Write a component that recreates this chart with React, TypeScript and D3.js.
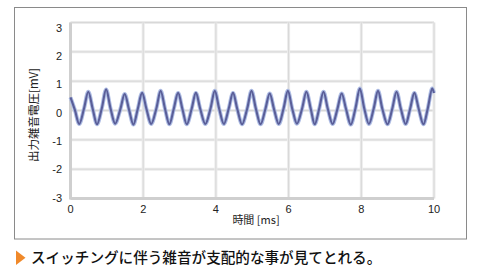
import React from "react";
import * as d3 from "d3";

const W = 482;
const H = 272;

const xTicks = [0, 2, 4, 6, 8, 10];
const yTicks = [-3, -2, -1, 0, 1, 2, 3];
const xTitle = "時間 [ms]";
const yTitle = "出力雑音電圧[mV]";
const caption = "スイッチングに伴う雑音が支配的な事が見てとれる。";

// waveform (time in ms, voltage in mV)
const timeMs = [
  0.0, 0.12, 0.24, 0.37, 0.49, 0.61, 0.73, 0.86, 0.98, 1.1, 1.23, 1.37, 1.49, 1.61, 1.73, 1.85,
  1.97, 2.09, 2.22, 2.36, 2.48, 2.6, 2.72, 2.84, 2.96, 3.08, 3.2, 3.33, 3.45, 3.57, 3.71, 3.85,
  3.97, 4.09, 4.22, 4.35, 4.47, 4.59, 4.72, 4.86, 4.98, 5.1, 5.23, 5.36, 5.48, 5.6, 5.73, 5.86,
  5.98, 6.1, 6.23, 6.37, 6.49, 6.61, 6.72, 6.84, 6.96, 7.08, 7.21, 7.34, 7.46, 7.58, 7.71, 7.84,
  7.96, 8.08, 8.21, 8.34, 8.46, 8.58, 8.72, 8.85, 8.97, 9.09, 9.22, 9.34, 9.46, 9.58, 9.71, 9.83,
  9.95, 10.0,
];
const noiseMv = [
  0.45, 0.02, -0.46, 0.06, 0.64, 0.06, -0.47, 0.07, 0.72, 0.08, -0.45, 0.04, 0.56, 0.03, -0.48, 0.05,
  0.6, 0.05, -0.46, 0.06, 0.67, 0.06, -0.47, 0.05, 0.6, 0.04, -0.47, 0.04, 0.6, 0.05, -0.46, 0.06,
  0.67, 0.06, -0.46, 0.05, 0.6, 0.04, -0.47, 0.06, 0.67, 0.06, -0.47, 0.04, 0.58, 0.04, -0.46, 0.06,
  0.67, 0.06, -0.45, 0.06, 0.64, 0.05, -0.47, 0.05, 0.64, 0.05, -0.46, 0.04, 0.58, 0.05, -0.48, 0.08,
  0.75, 0.08, -0.46, 0.06, 0.67, 0.05, -0.47, 0.05, 0.64, 0.05, -0.46, 0.04, 0.6, 0.05, -0.47, 0.08,
  0.75, 0.6,
];

export default function App() {
  const x = d3.scaleLinear().domain([0, 10]).range([70.5, 434]);
  const y = d3.scaleLinear().domain([-3, 3]).range([198.5, 22.5]);
  const yLab = d3.scaleLinear().domain([-3, 3]).range([197.7, 27.8]);

  const pts: [number, number][] = timeMs.map((t, i) => [t, noiseMv[i]]);
  const line = d3
    .line<[number, number]>()
    .x((d) => x(d[0]))
    .y((d) => y(d[1]))
    .curve(d3.curveCatmullRom.alpha(0.5));
  const path = line(pts) || "";

  const font = "'Liberation Sans', Arial, Helvetica, sans-serif";
  const cjk = "'Noto Sans CJK JP', 'Noto Sans', sans-serif";

  return (
    <svg
      width={W}
      height={H}
      style={{ position: "absolute", left: 0, top: 0, background: "#fff" }}
    >
      <rect x={0} y={0} width={W} height={H} fill="#fff" />
      <rect x={14.5} y={7.5} width={452} height={231.5} fill="#fff" stroke="#8a8a8a" strokeWidth={1} />

      {/* grid */}
      {yTicks.map((v) => (
        <g key={"gy" + v}>
          <line x1={x(0)} x2={x(10)} y1={y(v)} y2={y(v)} stroke="#ebebeb" strokeWidth={3} />
          <line x1={x(0)} x2={x(10)} y1={y(v)} y2={y(v)} stroke="#d8d8d8" strokeWidth={1} />
        </g>
      ))}
      {xTicks.map((v) => (
        <g key={"gx" + v}>
          <line x1={x(v)} x2={x(v)} y1={y(3)} y2={y(-3)} stroke="#ebebeb" strokeWidth={3} />
          <line x1={x(v)} x2={x(v)} y1={y(3)} y2={y(-3)} stroke="#d8d8d8" strokeWidth={1} />
        </g>
      ))}
      {/* frame left/bottom */}
      <line x1={x(0)} x2={x(0)} y1={y(3)} y2={y(-3) + 1} stroke="#cfcfcf" strokeWidth={3} />
      <line x1={x(0)} x2={x(10)} y1={y(-3)} y2={y(-3)} stroke="#cfcfcf" strokeWidth={3} />

      {/* waveform */}
      <path d={path} fill="none" stroke="#aebde4" strokeWidth={4} strokeLinejoin="round" />
      <path d={path} fill="none" stroke="#5a5e98" strokeWidth={2.1} strokeLinejoin="round" />

      {/* y tick labels */}
      {yTicks.map((v) => (
        <text
          key={"ty" + v}
          x={62}
          y={yLab(v)}
          dy="0.35em"
          textAnchor="end"
          fontFamily={font}
          fontSize={11}
          fill="#222"
        >
          {String(v)}
        </text>
      ))}
      {/* x tick labels */}
      {xTicks.map((v) => (
        <text
          key={"tx" + v}
          x={x(v)}
          y={209.5}
          dy="0.35em"
          textAnchor="middle"
          fontFamily={font}
          fontSize={11}
          fill="#222"
        >
          {String(v)}
        </text>
      ))}

      {/* axis titles */}
      <text
        x={256}
        y={220.5}
        dy="0.35em"
        textAnchor="middle"
        fontFamily={cjk}
        fontSize={11}
        fill="#222"
      >
        {xTitle}
      </text>
      <text
        transform={`translate(33.5,115) rotate(-90)`}
        dy="0.35em"
        textAnchor="middle"
        fontFamily={cjk}
        fontSize={11.5}
        fill="#222"
      >
        {yTitle}
      </text>

      {/* caption */}
      <path d="M16,250.5 L25.5,257.8 L16,265 Z" fill="#f0892a" />
      <text x={31} y={258} dy="0.36em" fontFamily={cjk} fontSize={14.6} fontWeight={500} fill="#111">
        {caption}
      </text>
    </svg>
  );
}
